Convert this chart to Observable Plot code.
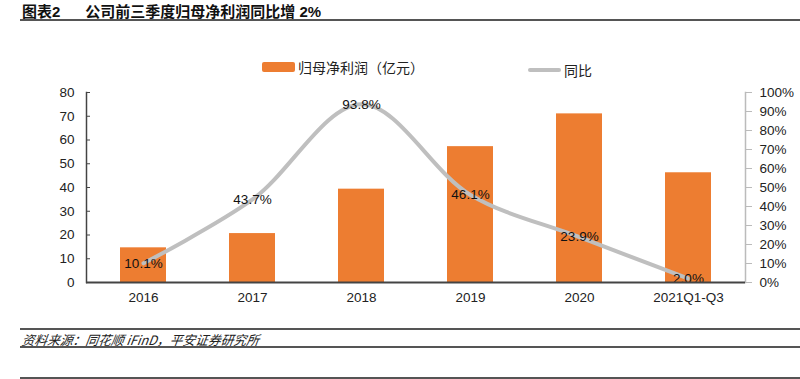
<!DOCTYPE html>
<html><head><meta charset="utf-8">
<script src="https://cdn.jsdelivr.net/npm/d3@7"></script>
<script src="https://cdn.jsdelivr.net/npm/@observablehq/plot@0.6"></script>
<style>
body{margin:0;background:#fff;font-family:"Liberation Sans",Arial,"Noto Sans CJK SC",sans-serif;}
#wrap{position:relative;width:800px;height:379px;overflow:hidden;}
.abs{position:absolute;}
#title{left:22px;top:0px;font-size:15px;font-weight:bold;color:#111;font-family:"Liberation Sans","Noto Sans CJK SC",sans-serif;white-space:pre;}
.hline{position:absolute;left:20px;right:0;height:2px;background:#555;}
#legend{top:56px;left:262px;font-size:14px;color:#222;font-family:"Noto Sans CJK SC",sans-serif;}
#foot{left:22px;top:330px;font-size:13px;font-style:italic;color:#222;font-family:"Noto Sans CJK SC",sans-serif;transform-origin:0 50%;transform:skewX(-8deg) scaleX(0.98);}
</style></head>
<body><div id="wrap">
<div id="title" class="abs">图表2      公司前三季度归母净利润同比增 2%</div>
<div class="hline" style="top:19px"></div>
<div id="chart" class="abs" style="left:0;top:0"></div>
<div id="legend" class="abs"></div>
<div class="hline" style="top:328px"></div>
<div id="foot" class="abs">资料来源：同花顺 iFinD，平安证券研究所</div>
<div class="hline" style="top:346px"></div>
<div class="hline" style="top:377px"></div>
</div>
<script>
const categories = ["2016","2017","2018","2019","2020","2021Q1-Q3"];
const profit = [14.6, 20.6, 39.3, 57.2, 71.0, 46.2];
const yoy = [10.1, 43.7, 93.8, 46.1, 23.9, 2.0];
const leftTicks = [0,10,20,30,40,50,60,70,80];
const rightTicks = [0,10,20,30,40,50,60,70,80,90,100];
const seriesNames = ["归母净利润（亿元）","同比"];
const barColor = "#ED7D31", lineColor = "#BFBFBF";
const ratio = 80/100;

const data = categories.map((c,i)=>({cat:c, v:profit[i], p:yoy[i], py:yoy[i]*ratio}));

const chart = Plot.plot({
  width:800, height:379,
  marginLeft:86, marginRight:55, marginTop:92, marginBottom:97,
  style:{fontFamily:'"Liberation Sans",Arial,sans-serif', fontSize:"13.5px", color:"#222", background:"transparent"},
  x:{domain:categories, paddingInner:0.58, paddingOuter:0.29, label:null},
  y:{domain:[0,80], label:null},
  marks:[
    Plot.barY(data,{x:"cat", y:"v", fill:barColor}),
    Plot.line(data,{x:"cat", y:"py", stroke:lineColor, strokeWidth:4, curve:"catmull-rom"}),
    Plot.text(data,{x:"cat", y:"py", text:d=>d.p.toFixed(1)+"%", fill:"#111", fontSize:13.5}),
    Plot.axisY(leftTicks,{anchor:"left", tickSize:-4, tickPadding:16, stroke:"#444", label:null}),
    Plot.axisY(rightTicks.map(t=>t*ratio),{anchor:"right", tickSize:6, tickPadding:8, stroke:"#bbb", tickFormat:d=>Math.round(d/ratio)+"%", label:null}),
    Plot.axisX({tickSize:0, tickPadding:10, label:null}),
    Plot.frame({anchor:"left", stroke:"#444", strokeWidth:1.5}),
    Plot.frame({anchor:"right", stroke:"#bbb", strokeWidth:1.5}),
    Plot.ruleY([0],{stroke:"#444", strokeWidth:2})
  ]
});
document.getElementById("chart").appendChild(chart);

const lg = document.getElementById("legend");
lg.innerHTML = `<span style="display:inline-flex;align-items:center"><span style="display:inline-block;width:33px;height:10px;background:${barColor};border-radius:2px;margin-right:3px"></span>${seriesNames[0]}</span>`+
`<span style="display:inline-flex;align-items:center;margin-left:104px"><span style="display:inline-block;width:33px;height:4px;background:${lineColor};border-radius:2px;margin-right:3px"></span>${seriesNames[1]}</span>`;
</script></body></html>
